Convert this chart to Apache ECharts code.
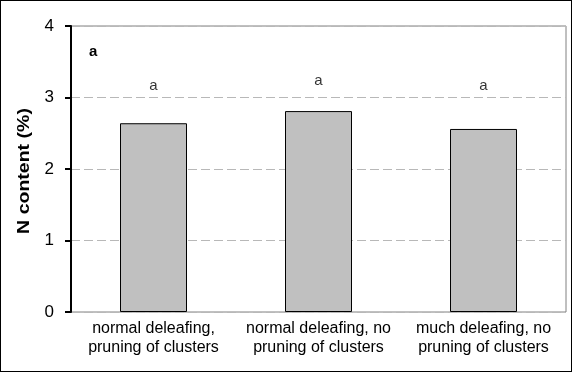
<!DOCTYPE html>
<html><head><meta charset="utf-8">
<script src="https://cdn.jsdelivr.net/npm/echarts@6/dist/echarts.min.js"></script>
<style>
html,body{margin:0;padding:0;background:#fff;}
#c{width:572px;height:372px;box-sizing:border-box;border:1px solid #000;}
</style></head>
<body><div id="c"></div>
<script>
const categories = ['normal deleafing,\npruning of clusters', 'normal deleafing, no\npruning of clusters', 'much deleafing, no\npruning of clusters'];
const nContent = [2.64, 2.81, 2.56];
const letters = ['a', 'a', 'a'];
const letterLevels = [3.16, 3.23, 3.16];
const yTicks = [0, 1, 2, 3, 4];
const yName = 'N content (%)';
const panelLabel = 'a';

const FONT = 'Liberation Sans, Arial, sans-serif';
const chart = echarts.init(document.getElementById('c'));
chart.setOption({
  animation: false,
  backgroundColor: '#fff',
  textStyle: { fontFamily: FONT },
  grid: { left: 70, right: 5, top: 25, bottom: 59, show: true, borderColor: '#808080', borderWidth: 1 },
  xAxis: {
    type: 'category', data: categories,
    axisLine: { show: false },
    axisTick: { show: false },
    axisLabel: { interval: 0, hideOverlap: false, fontSize: 16, color: '#000', margin: 7, lineHeight: 19, fontFamily: FONT }
  },
  yAxis: {
    type: 'value', min: yTicks[0], max: yTicks[yTicks.length - 1], interval: 1,
    axisLine: { show: true, lineStyle: { color: '#000', width: 2 } },
    axisTick: { show: true, inside: false, length: 6, lineStyle: { color: '#000', width: 2 } },
    axisLabel: { fontSize: 17, color: '#000', margin: 17, fontFamily: FONT },
    splitLine: { show: true, lineStyle: { color: '#b8b8b8', type: [9, 4], width: 1 } }
  },
  series: [
    {
      type: 'bar', data: nContent, barWidth: 67,
      itemStyle: { color: '#c0c0c0', borderColor: '#000', borderWidth: 1 }
    },
    {
      type: 'scatter', data: letterLevels, symbolSize: 0, silent: true,
      label: {
        show: true, position: 'inside',
        formatter: p => letters[p.dataIndex],
        fontSize: 15, color: '#000', fontFamily: FONT
      }
    }
  ],
  graphic: [
    {
      type: 'text', x: 24, y: 170, rotation: Math.PI / 2, scaleX: 1.22,
      style: { text: yName, x: 0, y: 0, align: 'center', verticalAlign: 'middle', fontSize: 16, fontWeight: 'bold', fill: '#000', fontFamily: FONT }
    },
    {
      type: 'text', left: 88, top: 43,
      style: { text: panelLabel, fontSize: 15, fontWeight: 'bold', fill: '#000', fontFamily: FONT }
    }
  ]
});
</script></body></html>
